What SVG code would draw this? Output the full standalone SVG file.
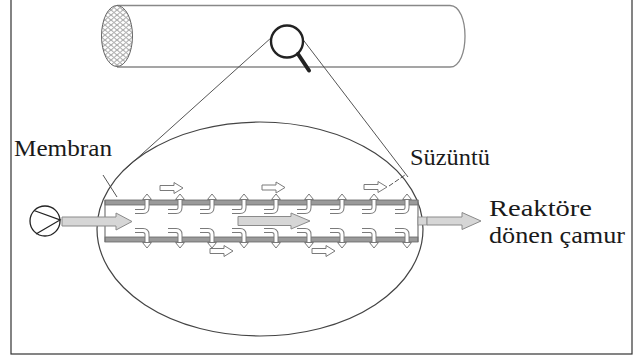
<svg xmlns="http://www.w3.org/2000/svg" xmlns:xlink="http://www.w3.org/1999/xlink" width="635" height="360" viewBox="0 0 635 360">
  <style>
    .lbl { font-family: "Liberation Serif", "Times New Roman", "DejaVu Serif", serif; fill: #1a1a1a; font-size: 24px; }
    .thin { fill: none; stroke: #555; stroke-width: 1; }
    .tube { fill: #9a9a9a; stroke: #666; stroke-width: 0.8; }
    .hollow { fill: #fff; stroke: #7a7a7a; stroke-width: 1; stroke-linejoin: miter; }
    .bigarrow { fill: #d6d6d6; stroke: #8a8a8a; stroke-width: 1; }
    .hook-out { fill: none; stroke: #7a7a7a; stroke-width: 5; }
    .hook-in { fill: none; stroke: #fff; stroke-width: 3; }
  </style>
  <defs>
    <!-- small hollow flow arrow -->
    <path id="sa" class="hollow" d="M0,-2.5H14V-5.5L23,0L14,5.5V2.5H0Z"/>
    <!-- permeate hook on the upper membrane wall -->
    <g id="hookUp">
      <path class="hook-out" d="M-12,9H-4Q0,9 0,5V-3"/>
      <path class="hook-in" d="M-12,9H-4Q0,9 0,5V-3"/>
      <path class="hollow" d="M-4.5,-3L0,-8.5L4.5,-3Z"/>
    </g>
    <!-- permeate hook on the lower membrane wall -->
    <g id="hookDown">
      <path class="hook-out" d="M-12,-9H-4Q0,-9 0,-5V3"/>
      <path class="hook-in" d="M-12,-9H-4Q0,-9 0,-5V3"/>
      <path class="hollow" d="M-4.5,3L0,8.5L4.5,3Z"/>
    </g>
    <pattern id="fibres" width="6" height="5" patternUnits="userSpaceOnUse">
      <ellipse cx="3" cy="2.5" rx="2.4" ry="2" fill="none" stroke="#666" stroke-width="0.6"/>
    </pattern>
    <clipPath id="bundleClip">
      <ellipse cx="117" cy="36" rx="15.5" ry="30.5"/>
    </clipPath>
  </defs>

  <!-- outer frame -->
  <rect x="11" y="-2" width="621" height="356" fill="#fff" stroke="#333" stroke-width="1.2"/>

  <!-- hollow-fibre module -->
  <g id="module">
    <path d="M117,5.5H450C470,5.5 470,67 450,67H117" fill="none" stroke="#888" stroke-width="1.3"/>
    <ellipse cx="117" cy="36" rx="15.5" ry="30.5" fill="#fff" stroke="#666" stroke-width="1"/>
    <rect x="100" y="4" width="34" height="64" fill="url(#fibres)" clip-path="url(#bundleClip)"/>
  </g>

  <!-- connectors: zoom lines and label pointers -->
  <g id="connectors">
    <path class="thin" d="M272,37L122,172"/>
    <path class="thin" d="M301,37L408,177"/>
    <path class="thin" d="M103,175L117,197"/>
    <path class="thin" d="M389,186L405,175" stroke-dasharray="5,2"/>
  </g>

  <!-- magnifier -->
  <g id="magnifier">
    <circle cx="287" cy="41.5" r="16" fill="#fff" stroke="#222" stroke-width="2.4"/>
    <line x1="298" y1="54" x2="309" y2="70.5" stroke="#222" stroke-width="4" stroke-linecap="round"/>
  </g>

  <!-- enlarged view of one fibre -->
  <g id="detail">
    <ellipse cx="260" cy="229" rx="163" ry="107" fill="none" stroke="#444" stroke-width="1.2"/>
    <!-- membrane walls -->
    <rect class="tube" x="105" y="200" width="313" height="5"/>
    <rect class="tube" x="105" y="237" width="313" height="5"/>
    <line x1="105" y1="200" x2="105" y2="242" stroke="#777" stroke-width="1.2"/>
    <line x1="418" y1="200" x2="418" y2="242" stroke="#777" stroke-width="1.2"/>
    <rect x="418" y="217" width="9" height="8" fill="#d6d6d6" stroke="#8a8a8a" stroke-width="0.8"/>

    <g id="hooks-upper">
      <use href="#hookUp" x="147" y="202.5"/>
      <use href="#hookUp" x="180" y="202.5"/>
      <use href="#hookUp" x="212" y="202.5"/>
      <use href="#hookUp" x="244" y="202.5"/>
      <use href="#hookUp" x="276" y="202.5"/>
      <use href="#hookUp" x="309" y="202.5"/>
      <use href="#hookUp" x="342" y="202.5"/>
      <use href="#hookUp" x="374" y="202.5"/>
      <use href="#hookUp" x="407" y="202.5"/>
    </g>
    <g id="hooks-lower">
      <use href="#hookDown" x="147" y="239.5"/>
      <use href="#hookDown" x="180" y="239.5"/>
      <use href="#hookDown" x="212" y="239.5"/>
      <use href="#hookDown" x="244" y="239.5"/>
      <use href="#hookDown" x="276" y="239.5"/>
      <use href="#hookDown" x="309" y="239.5"/>
      <use href="#hookDown" x="342" y="239.5"/>
      <use href="#hookDown" x="374" y="239.5"/>
      <use href="#hookDown" x="407" y="239.5"/>
    </g>

    <!-- permeate flow outside the fibre -->
    <use href="#sa" x="160" y="188"/>
    <use href="#sa" x="262" y="187.5"/>
    <use href="#sa" x="364" y="187"/>
    <use href="#sa" x="210" y="251"/>
    <use href="#sa" x="312" y="251"/>

    <!-- sludge flow inside the fibre -->
    <path class="bigarrow" d="M238,216.5H291V213L310,221L291,229V225.5H238Z"/>
  </g>

  <!-- feed pump and inlet -->
  <g id="pump">
    <circle cx="45" cy="221" r="15" fill="#fff" stroke="#222" stroke-width="1.3"/>
    <path d="M34,210.5L60,220L36,234" fill="none" stroke="#222" stroke-width="1.3"/>
    <path class="bigarrow" d="M62,217H116V213L132,221.5L116,230V226H62Z"/>
  </g>

  <!-- return sludge outlet -->
  <g id="outlet">
    <path class="bigarrow" d="M427,217H462V212.5L481,221L462,229.5V225H427Z"/>
  </g>

  <!-- labels -->
  <g id="labels">
    <text class="lbl" x="14" y="156" textLength="98" lengthAdjust="spacingAndGlyphs">Membran</text>
    <text class="lbl" x="410" y="165" textLength="80" lengthAdjust="spacingAndGlyphs">Süzüntü</text>
    <text class="lbl" x="489" y="216" textLength="103" lengthAdjust="spacingAndGlyphs">Reaktöre</text>
    <text class="lbl" x="489" y="243" textLength="136" lengthAdjust="spacingAndGlyphs">dönen çamur</text>
  </g>
</svg>
